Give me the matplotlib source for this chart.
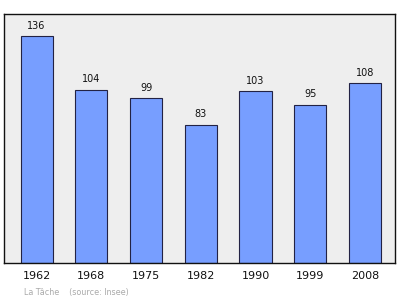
import matplotlib
matplotlib.use("Agg")
import matplotlib.pyplot as plt

years = ["1962", "1968", "1975", "1982", "1990", "1999", "2008"]
population = [136, 104, 99, 83, 103, 95, 108]
commune = "La Tâche"
source = "(source: Insee)"

fig = plt.figure(figsize=(4.0, 2.99), dpi=100)
ax = fig.add_axes([4/400, 1 - 263/299, 391/400, 249/299])
ax.set_facecolor("#eeeeee")
x = list(range(len(years)))
ax.bar(x, population, width=0.585, color="#779eff", edgecolor="#222244", linewidth=0.8, zorder=2)
for xi, v in zip(x, population):
    ax.text(xi, v + 3.3, str(v), ha="center", va="bottom", fontsize=7, color="#111111")
ax.set_xlim(-0.594, 6.548)
ax.set_ylim(0, 149.5)
ax.set_yticks([])
ax.set_xticks(x)
ax.set_xticklabels(years, fontsize=8, color="#111111")
ax.tick_params(axis="x", length=0, pad=6)
for s in ax.spines.values():
    s.set_color("#111111")
    s.set_linewidth(1.0)
fig.text(24/400, 1 - 292/299, commune + "    " + source, fontsize=5.8, color="#aaaaaa", va="center", ha="left")
fig.savefig("out.png", dpi=100)
